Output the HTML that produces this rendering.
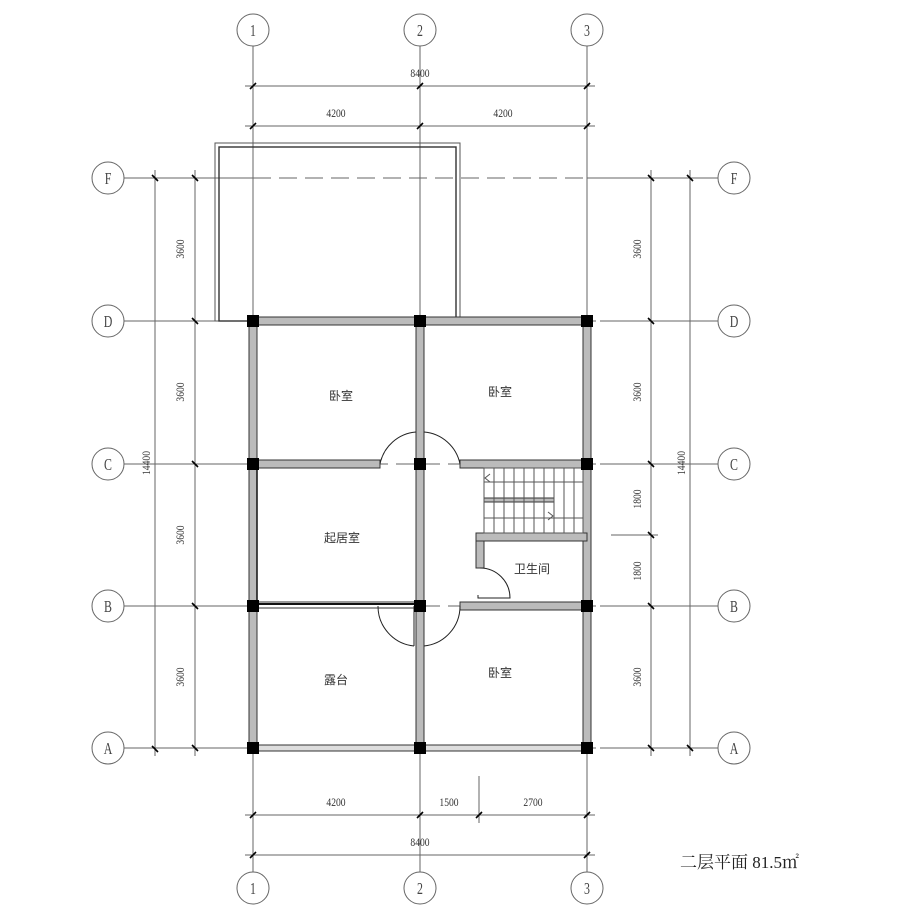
<!DOCTYPE html>
<html><head><meta charset="utf-8"><style>html,body{margin:0;padding:0;background:#fff}svg{display:block}</style></head><body>
<svg width="916" height="916" viewBox="0 0 916 916" xmlns="http://www.w3.org/2000/svg" font-family="Liberation Serif, Noto Serif CJK SC, serif" fill="none">
<g stroke="#666" stroke-width="1">
<line x1="253" y1="46" x2="253" y2="872"/><line x1="420" y1="46" x2="420" y2="330"/><line x1="420" y1="740" x2="420" y2="872"/><line x1="587" y1="46" x2="587" y2="872"/>
<line x1="420" y1="330" x2="420" y2="740" stroke-dasharray="18,8"/>
<line x1="124" y1="178" x2="253" y2="178"/><line x1="587" y1="178" x2="718" y2="178"/>
<line x1="124" y1="321" x2="240" y2="321"/><line x1="600" y1="321" x2="718" y2="321"/>
<line x1="124" y1="464" x2="240" y2="464"/><line x1="600" y1="464" x2="718" y2="464"/>
<line x1="124" y1="606" x2="240" y2="606"/><line x1="600" y1="606" x2="718" y2="606"/>
<line x1="124" y1="748" x2="240" y2="748"/><line x1="600" y1="748" x2="718" y2="748"/>
<g stroke-dasharray="18,8">
<line x1="253" y1="178" x2="587" y2="178"/>
<line x1="240" y1="321" x2="600" y2="321"/><line x1="240" y1="464" x2="600" y2="464"/>
<line x1="240" y1="606" x2="600" y2="606"/><line x1="240" y1="748" x2="600" y2="748"/>
</g>
<circle cx="253" cy="30" r="16" fill="#fff"/><circle cx="420" cy="30" r="16" fill="#fff"/><circle cx="587" cy="30" r="16" fill="#fff"/>
<circle cx="253" cy="888" r="16" fill="#fff"/><circle cx="420" cy="888" r="16" fill="#fff"/><circle cx="587" cy="888" r="16" fill="#fff"/>
<circle cx="108" cy="178" r="16" fill="#fff"/><circle cx="108" cy="321" r="16" fill="#fff"/><circle cx="108" cy="464" r="16" fill="#fff"/><circle cx="108" cy="606" r="16" fill="#fff"/><circle cx="108" cy="748" r="16" fill="#fff"/>
<circle cx="734" cy="178" r="16" fill="#fff"/><circle cx="734" cy="321" r="16" fill="#fff"/><circle cx="734" cy="464" r="16" fill="#fff"/><circle cx="734" cy="606" r="16" fill="#fff"/><circle cx="734" cy="748" r="16" fill="#fff"/>
<line x1="245" y1="86" x2="595" y2="86"/><line x1="245" y1="126" x2="595" y2="126"/>
<line x1="245" y1="815" x2="595" y2="815"/><line x1="245" y1="855" x2="595" y2="855"/>
<line x1="479" y1="776" x2="479" y2="823"/>
<line x1="155" y1="170" x2="155" y2="756"/><line x1="195" y1="170" x2="195" y2="756"/>
<line x1="651" y1="170" x2="651" y2="756"/><line x1="690" y1="170" x2="690" y2="756"/>
<line x1="611" y1="535" x2="658" y2="535"/>
</g>
<g stroke="#000" stroke-width="1.6">
<path d="M250 89l6-6M417 89l6-6M584 89l6-6M250 129l6-6M417 129l6-6M584 129l6-6M250 818l6-6M417 818l6-6M476 818l6-6M584 818l6-6M250 858l6-6M584 858l6-6"/>
<path d="M152 175l6 6M152 746l6 6M192 175l6 6M192 318l6 6M192 461l6 6M192 603l6 6M192 745l6 6M648 175l6 6M648 318l6 6M648 461l6 6M648 532l6 6M648 603l6 6M648 745l6 6M687 175l6 6M687 745l6 6"/>
</g>
<rect x="215" y="143" width="245" height="178" stroke="#555" stroke-width="1"/>
<rect x="219" y="147" width="237" height="174" stroke="#333" stroke-width="1.4"/>
<g fill="#bbb" stroke="#333" stroke-width="1">
<rect x="253" y="317" width="334" height="8"/>
<rect x="249" y="321" width="8" height="427"/>
<rect x="583" y="321" width="8" height="427"/>
<rect x="416" y="321" width="8" height="427"/>
<rect x="253" y="460" width="127" height="8"/>
<rect x="460" y="460" width="127" height="8"/>
<rect x="460" y="602" width="127" height="8"/>
<rect x="253" y="602" width="167" height="6" fill="#fff"/>
<rect x="253" y="745" width="334" height="6" fill="#ddd"/>
<rect x="476" y="533" width="8" height="35"/>
<rect x="476" y="533" width="111" height="8"/>
<rect x="484" y="498" width="70" height="4"/>
</g>
<line x1="253" y1="604" x2="420" y2="604" stroke="#111" stroke-width="2"/>
<line x1="257" y1="468" x2="257" y2="602" stroke="#111" stroke-width="1.5"/>
<g stroke="#555" stroke-width="1">
<rect x="484" y="468" width="99" height="65"/>
<path d="M494 468v65M504 468v65M514 468v65M524 468v65M534 468v65M544 468v65M554 468v65M564 468v65M574 468v65M484 482h99M484 518h99"/>
<path d="M490 474l-5 4 5 4M548 512l5 4-5 4"/>
</g>
<g stroke="#222" stroke-width="1">
<path d="M380 464A40 40 0 0 1 416 432"/><path d="M460 464A40 40 0 0 0 424 432"/>
<path d="M378 606A40 40 0 0 0 414 646M414 606v40"/><path d="M460 606A40 40 0 0 1 424 646"/>
<path d="M480 568A30 30 0 0 1 510 598H478v-3"/>
</g>
<g fill="#000">
<rect x="247" y="315" width="12" height="12"/><rect x="414" y="315" width="12" height="12"/><rect x="581" y="315" width="12" height="12"/>
<rect x="247" y="458" width="12" height="12"/><rect x="414" y="458" width="12" height="12"/><rect x="581" y="458" width="12" height="12"/>
<rect x="247" y="600" width="12" height="12"/><rect x="414" y="600" width="12" height="12"/><rect x="581" y="600" width="12" height="12"/>
<rect x="247" y="742" width="12" height="12"/><rect x="414" y="742" width="12" height="12"/><rect x="581" y="742" width="12" height="12"/>
</g>
<g fill="#444" font-size="17" text-anchor="middle">
<text transform="translate(253 36) scale(0.7 1)">1</text><text transform="translate(420 36) scale(0.7 1)">2</text><text transform="translate(587 36) scale(0.7 1)">3</text>
<text transform="translate(253 894) scale(0.7 1)">1</text><text transform="translate(420 894) scale(0.7 1)">2</text><text transform="translate(587 894) scale(0.7 1)">3</text>
<text transform="translate(108 184) scale(0.7 1)">F</text><text transform="translate(108 327) scale(0.7 1)">D</text><text transform="translate(108 470) scale(0.7 1)">C</text><text transform="translate(108 612) scale(0.7 1)">B</text><text transform="translate(108 754) scale(0.7 1)">A</text>
<text transform="translate(734 184) scale(0.7 1)">F</text><text transform="translate(734 327) scale(0.7 1)">D</text><text transform="translate(734 470) scale(0.7 1)">C</text><text transform="translate(734 612) scale(0.7 1)">B</text><text transform="translate(734 754) scale(0.7 1)">A</text>
</g>
<g fill="#333" font-size="12" text-anchor="middle">
<text transform="translate(420 77) scale(0.8 1)">8400</text><text transform="translate(336 117) scale(0.8 1)">4200</text><text transform="translate(503 117) scale(0.8 1)">4200</text>
<text transform="translate(336 806) scale(0.8 1)">4200</text><text transform="translate(449 806) scale(0.8 1)">1500</text><text transform="translate(533 806) scale(0.8 1)">2700</text><text transform="translate(420 846) scale(0.8 1)">8400</text>
<text transform="translate(184 249) rotate(-90) scale(0.8 1)">3600</text><text transform="translate(184 392) rotate(-90) scale(0.8 1)">3600</text>
<text transform="translate(184 535) rotate(-90) scale(0.8 1)">3600</text><text transform="translate(184 677) rotate(-90) scale(0.8 1)">3600</text>
<text transform="translate(150 463) rotate(-90) scale(0.8 1)">14400</text>
<text transform="translate(641 249) rotate(-90) scale(0.8 1)">3600</text><text transform="translate(641 392) rotate(-90) scale(0.8 1)">3600</text>
<text transform="translate(641 499) rotate(-90) scale(0.8 1)">1800</text><text transform="translate(641 571) rotate(-90) scale(0.8 1)">1800</text>
<text transform="translate(641 677) rotate(-90) scale(0.8 1)">3600</text><text transform="translate(685 463) rotate(-90) scale(0.8 1)">14400</text>
</g>
<g fill="#333" font-size="12" text-anchor="middle" font-family="Liberation Sans, Noto Sans CJK SC, sans-serif">
<text x="341" y="400">卧室</text><text x="500" y="396">卧室</text><text x="342" y="542">起居室</text>
<text x="532" y="573">卫生间</text><text x="336" y="684">露台</text><text x="500" y="677">卧室</text>
</g>
<text x="680" y="868" fill="#222" font-size="17" font-family="Liberation Serif, Noto Serif CJK SC, serif">二层平面 81.5㎡</text>
</svg>
</body></html>
